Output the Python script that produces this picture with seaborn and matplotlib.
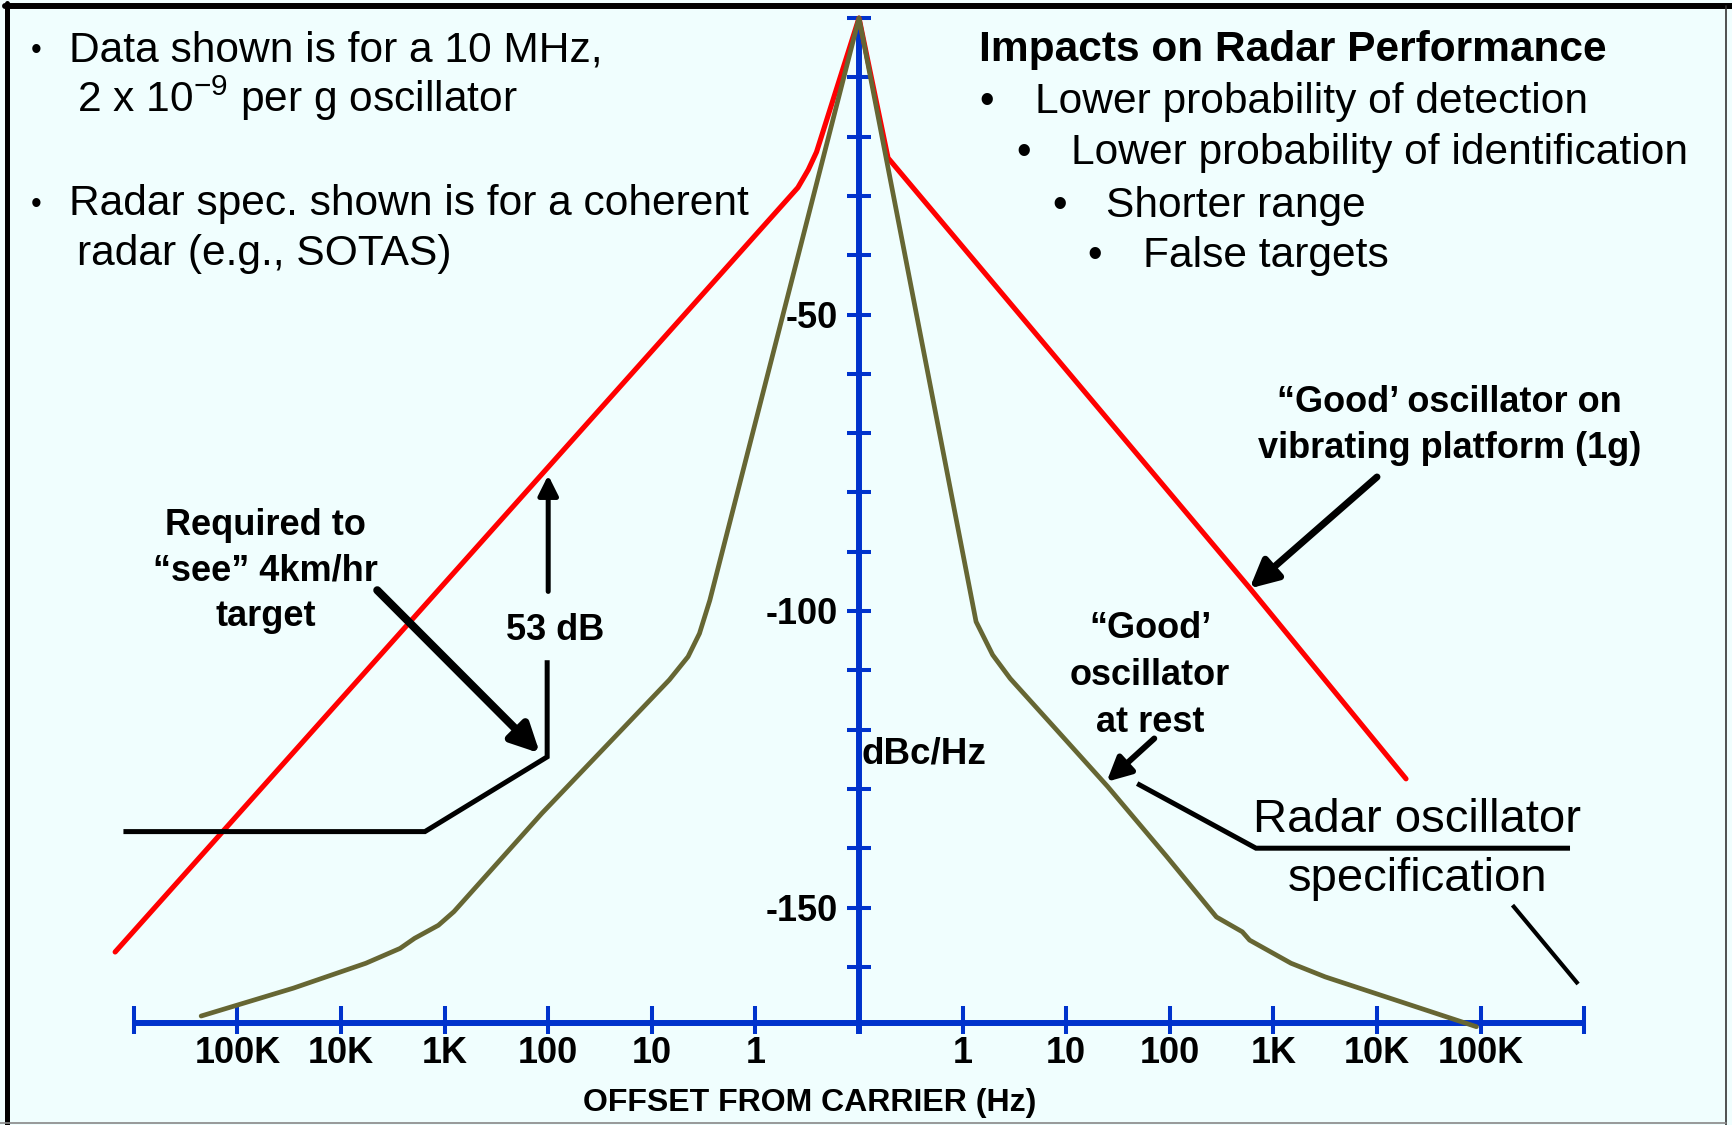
"""
Phase-noise sketch: 'good' oscillator at rest vs. on a vibrating platform,
against a coherent radar oscillator spec.
"""

import matplotlib
matplotlib.use("Agg")
import matplotlib.pyplot as plt
from matplotlib.lines import Line2D
import numpy as np
import seaborn as sns

# ── Data ────────────────────────────────────────────────────────────────────
# x = decade position from the carrier (left side negative), y = dBc/Hz
VIB_POS = [-7.18, -0.59, -0.49, -0.41, 0.0, 0.28, 3.77, 5.28]
VIB_DBC = [-157.5, -28.6, -25.6, -22.6, 0.0, -23.6, -96.1, -128.3]

REST_POS = [-6.35, -5.46, -4.76, -4.43, -4.29, -4.06, -3.91, -3.06, -1.83, -1.65,
            -1.54, -1.44, 0.0, 1.13, 1.29, 1.46, 1.91, 2.40, 2.97, 3.45,
            3.70, 3.77, 4.17, 4.50, 5.96]
REST_DBC = [-168.3, -163.6, -159.4, -156.9, -155.2, -153.0, -150.7, -134.1, -111.6, -107.7,
            -103.8, -98.2, 0.0, -101.8, -107.4, -111.4, -120.1, -129.6, -141.4, -151.6,
            -154.1, -155.5, -159.4, -161.7, -170.1]

LEFT_OFFSETS  = ["100K", "10K", "1K", "100", "10", "1"]
RIGHT_OFFSETS = ["1", "10", "100", "1K", "10K", "100K"]
DBC_TICKS  = list(range(0, -170, -10))
DBC_LABELS = [-50, -100, -150]

BG    = "#F0FEFE"
BLUE  = "#0033CC"
RED   = "#FF0000"
OLIVE = "#666633"

# pixel geometry of the reference canvas
W, H = 1732, 1125
X0, XS = 859.0, 103.6      # px of carrier, px per decade
Y0, YS = 18.0, 5.93        # px of 0 dBc, px per dB
AXIS_DB = -169.5

sns.set_theme(style="white")
plt.rcParams["font.family"] = ["Liberation Sans", "DejaVu Sans"]
plt.rcParams["mathtext.default"] = "regular"
plt.rcParams["text.color"] = "black"

fig = plt.figure(figsize=(W / 100, H / 100), dpi=100, facecolor=BG)
ax = fig.add_axes([0, 0, 1, 1])
ax.set_xlim(-X0 / XS, (W - X0) / XS)
ax.set_ylim(-(H - Y0) / YS, Y0 / YS)
ax.axis("off")


def ft(x, y, s, **kw):
    """text placed in reference pixel coords (origin top-left)"""
    fig.text(x / W, 1 - y / H, s, **kw)


# ── Blue axes ───────────────────────────────────────────────────────────────
dec = np.arange(-7, 8)
ax.plot([0, 0], [0, -171.3], color=BLUE, lw=4.3, solid_capstyle="butt", zorder=2)
ax.hlines(DBC_TICKS, -0.116, 0.116, color=BLUE, lw=2.9, zorder=2)
ax.plot([dec[0], dec[-1]], [AXIS_DB, AXIS_DB], color=BLUE, lw=4.3,
        solid_capstyle="butt", zorder=2)
ax.vlines(dec, -166.6, -171.3, color=BLUE, lw=2.9, zorder=2)

bold = dict(fontweight="bold", fontsize=26, color="black")
for v in DBC_LABELS:
    ax.text(-0.2, v - 2.2, str(v), ha="right", va="baseline", **bold)
for p, lab in zip(np.arange(-6, 0), LEFT_OFFSETS):
    ax.text(p, -176.3, lab, ha="center", va="baseline", **bold)
for p, lab in zip(np.arange(1, 7), RIGHT_OFFSETS):
    ax.text(p, -176.3, lab, ha="center", va="baseline", **bold)
ax.text(-0.48, -184.4, "OFFSET FROM CARRIER (Hz)", ha="center", va="baseline",
        fontweight="bold", fontsize=23)
ax.text(0.02, -125.7, "dBc/Hz", ha="left", va="baseline", fontweight="bold", fontsize=26.5)

# ── Curves ──────────────────────────────────────────────────────────────────
sns.lineplot(x=VIB_POS, y=VIB_DBC, sort=False, estimator=None, color=RED,
             lw=3.7, ax=ax, zorder=3)
sns.lineplot(x=REST_POS, y=REST_DBC, sort=False, estimator=None, color=OLIVE,
             lw=3.4, ax=ax, zorder=4)

# ── Annotations ─────────────────────────────────────────────────────────────
lk = dict(color="black", solid_capstyle="butt", solid_joinstyle="miter", zorder=5)
ax.plot([-7.10, -4.19, -3.01, -3.01], [-137.2, -137.2, -124.6, -108.3], lw=3.6, **lk)
ax.plot([2.685, 3.832, 6.863], [-129.1, -140.0, -140.0], lw=3.6, **lk)
ax.plot([6.308, 6.941], [-149.6, -162.9], lw=3.0, **lk)


def arrow(tail, tip, lw, ms):
    ax.annotate("", xy=tip, xytext=tail, zorder=6,
                arrowprops=dict(arrowstyle="-|>", color="black", lw=lw,
                                mutation_scale=ms, shrinkA=0, shrinkB=0))


arrow((-3.00, -96.7), (-3.00, -77.1), 3.6, 30)
arrow((-4.65, -96.5), (-3.08, -124.0), 5.8, 42)
arrow((5.00, -77.4), (3.77, -96.2), 5.0, 42)
arrow((2.85, -121.5), (2.39, -128.8), 4.3, 36)

ann = dict(ha="center", va="baseline", fontweight="bold", fontsize=26)
for y, s in zip([-87.2, -94.8, -102.6], ["Required to", "\u201csee\u201d 4km/hr", "target"]):
    ax.text(-5.73, y, s, **ann)
ax.text(-2.93, -104.9, "53 dB", **ann)
for y, s in zip([-66.4, -74.2], ["\u201cGood\u2019 oscillator on", "vibrating platform (1g)"]):
    ax.text(5.70, y, s, **ann)
for y, s in zip([-104.6, -112.5, -120.4], ["\u201cGood\u2019", "oscillator", "at rest"]):
    ax.text(2.81, y, s, **ann)
for y, s in zip([-137.2, -147.3], ["Radar oscillator", "specification"]):
    ax.text(5.39, y, s, ha="center", va="baseline", fontsize=34)

# ── Text blocks ─────────────────────────────────────────────────────────────
reg = dict(fontsize=30.6, ha="left", va="baseline", color="black")
ft(36, 59, "\u2022", fontsize=22, ha="center", va="baseline")
ft(69, 61.7, "Data shown is for a 10 MHz,", **reg)
ft(77, 111.7, "2 x 10$^{-9}$ per g oscillator", **reg)
ft(36, 213, "\u2022", fontsize=22, ha="center", va="baseline")
ft(69, 215, "Radar spec. shown is for a coherent", **reg)
ft(77, 265, "radar (e.g., SOTAS)", **reg)

ft(979, 60.7, "Impacts on Radar Performance", fontsize=30.6, fontweight="bold",
   ha="left", va="baseline")
items = ["Lower probability of detection", "Lower probability of identification",
         "Shorter range", "False targets"]
bullet_x = [987, 1024, 1060, 1095]
text_x = [1035, 1071, 1106, 1143]
baselines = [113, 164, 216.7, 266.7]
for bx, tx, by, s in zip(bullet_x, text_x, baselines, items):
    ft(bx, by, "\u2022", fontsize=30, ha="center", va="baseline")
    ft(tx, by, s, **reg)

# ── Frame ───────────────────────────────────────────────────────────────────
fig.add_artist(Line2D([5 / W, 1], [1 - 6 / H] * 2, transform=fig.transFigure,
                      color="black", lw=4.3))
fig.add_artist(Line2D([7.5 / W] * 2, [0, 1 - 3 / H], transform=fig.transFigure,
                      color="black", lw=3.6))
fig.add_artist(Line2D([1726 / W] * 2, [0, 1 - 6 / H], transform=fig.transFigure,
                      color="#333333", lw=1.2))
fig.add_artist(Line2D([0, 1726 / W], [2 / H] * 2, transform=fig.transFigure,
                      color="#888888", lw=1.2))

fig.savefig("out.png", dpi=100, facecolor=BG)
